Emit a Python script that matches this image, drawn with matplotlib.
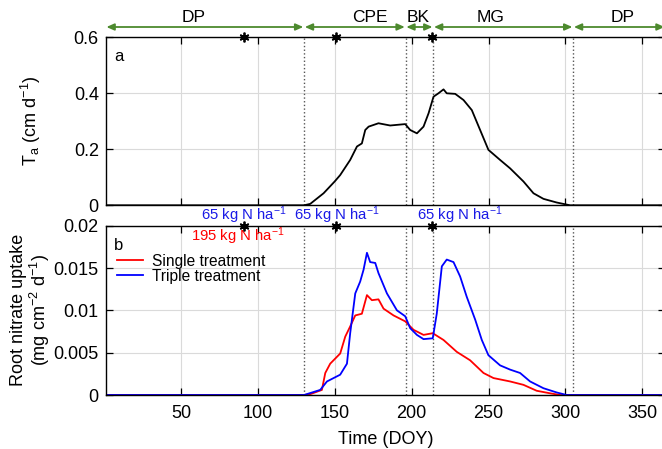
import matplotlib
matplotlib.use("Agg")
import matplotlib.pyplot as plt
import matplotlib.transforms as mtransforms

plt.rcParams['font.family'] = ['Liberation Sans', 'DejaVu Sans']
plt.rcParams['mathtext.fontset'] = 'custom'
plt.rcParams['mathtext.rm'] = 'Liberation Sans'
plt.rcParams['mathtext.it'] = 'Liberation Sans:italic'
plt.rcParams['mathtext.bf'] = 'Liberation Sans:bold'

# ---------------- data ----------------
ta_doy = [1, 130, 134, 142.7, 149.9, 153.5, 160, 164.4, 167.6, 169.8, 172, 178.4, 186,
          195.8, 199, 203.4, 207.7, 211, 214.2, 217.4, 220.7, 222.8, 228.3, 233.7,
          239.1, 244.5, 249.9, 257.5, 264, 272.7, 279.2, 285.7, 294.3, 303, 365]
ta_vals = [0, 0, 0.005, 0.043, 0.085, 0.108, 0.162, 0.21, 0.221, 0.269, 0.281, 0.293, 0.285,
           0.29, 0.269, 0.257, 0.281, 0.329, 0.388, 0.40, 0.414, 0.40, 0.398, 0.376,
           0.34, 0.269, 0.198, 0.162, 0.132, 0.085, 0.043, 0.023, 0.01, 0, 0]

single_doy = [1, 130, 134, 141.6, 143.8, 147.0, 153.5, 156.8, 160, 163.3, 167.6, 170.9, 174.1,
              178.4, 181.7, 188.2, 195.8, 201.2, 207.7, 213.7, 220.7, 229.3, 238, 246.7,
              253.2, 264, 272.7, 281.3, 290, 296.5, 365]
single_vals = [0, 0, 0.0001, 0.0006, 0.0026, 0.0037, 0.0049, 0.0069, 0.0081, 0.0094, 0.0096,
               0.0118, 0.0112, 0.0113, 0.0102, 0.0094, 0.0087, 0.0077, 0.0071, 0.0073, 0.0065,
               0.0051, 0.0041, 0.0026, 0.0020, 0.0016, 0.0012, 0.0005, 0.0002, 0, 0]

triple_doy = [1, 130, 140.5, 144.9, 153.5, 157.9, 160, 163.3, 166.5, 168.7, 170.9, 173, 176.3,
              178.4, 183.9, 190.4, 195.8, 199, 203.4, 207.7, 213.7, 216.3, 219.6, 222.8,
              227.2, 231.5, 235.8, 241.3, 245.6, 249.9, 257.5, 264, 270.5, 277, 285.7,
              294.3, 300.8, 365]
triple_vals = [0, 0, 0.0006, 0.0016, 0.0024, 0.0037, 0.0073, 0.0120, 0.0134, 0.0148, 0.0168,
               0.0157, 0.0156, 0.0144, 0.0120, 0.0100, 0.0093, 0.0079, 0.0071, 0.0066, 0.0067,
               0.0096, 0.0152, 0.0160, 0.0157, 0.0140, 0.0116, 0.0089, 0.0065, 0.0047,
               0.0035, 0.0030, 0.0026, 0.0016, 0.0008, 0.0003, 0, 0]

fert_days = [91, 151, 213]
phase_bounds = [1, 130, 196, 214, 305, 365]
phase_names = ['DP', 'CPE', 'BK', 'MG', 'DP']
phase_label_x = [58, 173, 204, 251, 337]
xticks = [50, 100, 150, 200, 250, 300, 350]

# ---------------- figure ----------------
W, H = 662, 449
fig = plt.figure(figsize=(W / 100, H / 100), dpi=100)

left = 105.7 / W
width = (665.4 - 105.7) / W
ax1 = fig.add_axes([left, 1 - 205.3 / H, width, 168 / H])
ax2 = fig.add_axes([left, 1 - 395 / H, width, 169.3 / H])

grid_c = '#dadada'
dot_c = '#555555'
for ax in (ax1, ax2):
    ax.set_xlim(1, 365)
    ax.set_xticks(xticks)
    ax.grid(True, color=grid_c, lw=0.8)
    ax.set_axisbelow(True)
    ax.tick_params(direction='in', top=True, right=True, length=5, width=0.9,
                   labelsize=13, pad=5)
    ax.tick_params(axis='x', pad=7)
    for s in ax.spines.values():
        s.set_linewidth(1.0)
    for b in phase_bounds[1:-1]:
        ax.axvline(b, color=dot_c, ls=':', lw=1.0, zorder=1.5)

# panel a
ax1.plot(ta_doy, ta_vals, color='black', lw=1.3)
ax1.set_ylim(0, 0.6)
ax1.set_yticks([0, 0.2, 0.4, 0.6])
ax1.set_yticklabels(['0', '0.2', '0.4', '0.6'])
ax1.tick_params(labelbottom=False)
ax1.text(0.015, 0.93, 'a', transform=ax1.transAxes, fontsize=12, va='top', ha='left')
ax1.plot(fert_days, [0.6] * len(fert_days), ls='none', marker=(6, 2, 0), ms=7,
         mew=1.3, color='black', clip_on=False, zorder=5)

# panel b
ax2.plot(single_doy, single_vals, color='red', lw=1.3, label='Single treatment')
ax2.plot(triple_doy, triple_vals, color='blue', lw=1.3, label='Triple treatment')
ax2.set_ylim(0, 0.02)
ax2.set_yticks([0, 0.005, 0.01, 0.015, 0.02])
ax2.set_yticklabels(['0', '0.005', '0.01', '0.015', '0.02'])
ax2.set_xticklabels([str(t) for t in xticks])
ax2.text(0.015, 0.93, 'b', transform=ax2.transAxes, fontsize=12, va='top', ha='left')
ax2.plot(fert_days, [0.02] * len(fert_days), ls='none', marker=(6, 2, 0), ms=7,
         mew=1.3, color='black', clip_on=False, zorder=5)
leg = ax2.legend(loc='upper left', bbox_to_anchor=(0.0, 0.9), frameon=False,
                 fontsize=11.2, handlelength=1.7, handletextpad=0.6,
                 labelspacing=0.0, borderaxespad=0.3)
ax2.set_xlabel('Time (DOY)', fontsize=13, labelpad=7)

# y labels
fig.text(31 / W, 1 - 121 / H, r'T$_\mathrm{a}$ (cm d$^{-1}$)', rotation=90,
         ha='center', va='center', fontsize=13)
fig.text(31 / W, 1 - 310 / H, 'Root nitrate uptake\n(mg cm$^{-2}$ d$^{-1}$)', rotation=90,
         ha='center', va='center', fontsize=13, linespacing=1.0)

# phase arrows
btr = mtransforms.blended_transform_factory(ax1.transData, fig.transFigure)
arrow_y = 1 - 27 / H
label_y = 1 - 17 / H
green = '#4d8a2e'
for i, name in enumerate(phase_names):
    x0, x1 = phase_bounds[i], phase_bounds[i + 1]
    ax1.annotate('', xy=(x1 - 0.5, arrow_y), xytext=(x0 + 0.5, arrow_y),
                 xycoords=btr, textcoords=btr,
                 arrowprops=dict(arrowstyle='<|-|>,head_length=0.45,head_width=0.2',
                                 color=green, lw=1.3, shrinkA=0, shrinkB=0,
                                 mutation_scale=10),
                 annotation_clip=False)
    ax1.text(phase_label_x[i], label_y, name, transform=btr,
             fontsize=12.5, ha='center', va='center', clip_on=False)

# fertilizer annotations
btr2 = mtransforms.blended_transform_factory(ax2.transData, fig.transFigure)
blue_txt = r'65 kg N ha$^{-1}$'
for xd in [91, 151.3, 231.5]:
    ax2.text(xd, 1 - 215 / H, blue_txt, transform=btr2, color='#1a1ae6', fontsize=10.7,
             ha='center', va='center', clip_on=False)
ax2.text(87, 1 - 236 / H, r'195 kg N ha$^{-1}$', transform=btr2, color='red', fontsize=10.7,
         ha='center', va='center', clip_on=False)

fig.savefig('out.png', dpi=100)
